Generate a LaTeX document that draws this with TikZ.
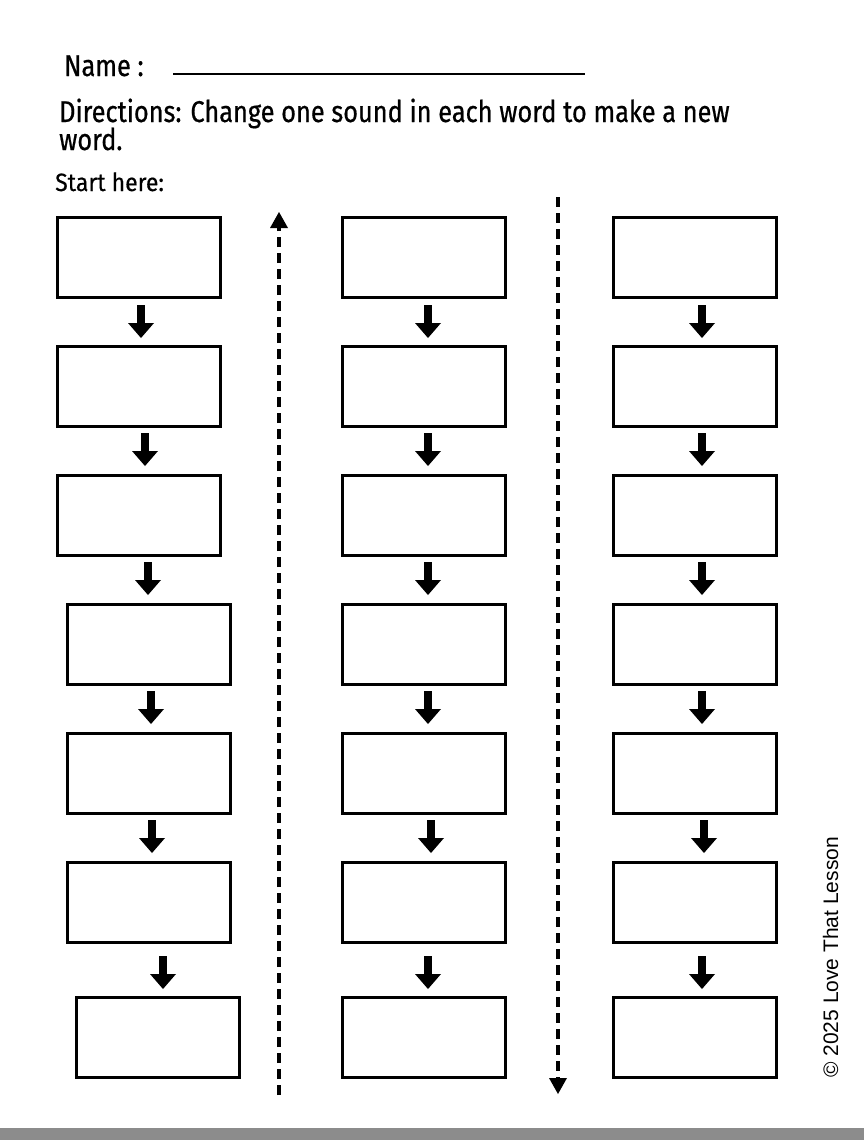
\documentclass[tikz,border=0pt]{standalone}
\usepackage{fontspec}
\setmainfont{Fira Sans}
\newfontfamily\hfont[FakeStretch=0.845,FakeBold=0.6]{Fira Sans}
\newfontfamily\sfont[FakeStretch=0.92,FakeBold=0.5]{Fira Sans}
\newfontfamily\cfont{Liberation Sans}
\usetikzlibrary{arrows.meta,calc}
\definecolor{bargray}{RGB}{140,140,140}
\begin{document}
\begin{tikzpicture}[x=1pt,y=-1pt,
  wbox/.style={draw,line width=3pt,minimum width=163pt,minimum height=80pt,inner sep=0pt,anchor=north west},
  fatarrow/.style={line width=8pt,-{Triangle[width=26pt,length=15pt,line width=0pt]}},
  guide/.style={line width=3.5pt,dash pattern=on 10pt off 6pt},
  htext/.style={anchor=base west,inner sep=0pt,font=\hfont\fontsize{30}{32}\selectfont}]
\useasboundingbox (0,0) rectangle (864,1140);
\fill[white] (0,0) rectangle (864,1140);
\fill[bargray] (0,1128) rectangle (864,1140);
% header
\node[htext] (name) at (64,76) {Name :};
\coordinate (ul1) at (173,74);
\coordinate (ul2) at (585,74);
\draw[line width=2pt] (ul1) -- (ul2);
\node[htext] (dir1) at (59,122) {Directions: Change one sound in each word to make a new};
\node[htext] (dir2) at (59,150) {word.};
\node[htext,font=\sfont\fontsize{25}{27}\selectfont] (start) at (55,191) {Start here:};
% boxes
\foreach \c/\xa/\xb/\xc/\xd/\xe/\xf/\xg in {a/56/56/56/66/66/66/75, b/341/341/341/341/341/341/341, c/612/612/612/612/612/612/612}{
  \node[wbox] (\c1) at (\xa,216) {};
  \node[wbox] (\c2) at (\xb,345) {};
  \node[wbox] (\c3) at (\xc,474) {};
  \node[wbox] (\c4) at (\xd,603) {};
  \node[wbox] (\c5) at (\xe,732) {};
  \node[wbox] (\c6) at (\xf,861) {};
  \node[wbox] (\c7) at (\xg,996) {};
}
% arrows
\foreach \n/\x/\y in {1/141/305,2/145/433,3/148/562,4/151/691,5/152/820,6/163/956,
                      7/428/305,8/428/433,9/428/562,10/428/691,11/431/820,12/428/956,
                      13/702/305,14/702/433,15/702/562,16/702/691,17/704/820,18/702/956}{
  \coordinate (s\n) at (\x,\y);
  \coordinate (e\n) at (\x,\y+33);
  \draw[fatarrow] (s\n) -- (e\n);
}
% dashed guides
\coordinate (g1s) at (279,1095);
\coordinate (g1e) at (279,226);
\coordinate (g1t) at (279,212);
\draw[guide] (g1s) -- (g1e);
\fill (g1t) -- ++(-9,16) -- ++(18,0) -- cycle;
\coordinate (g2s) at (558,197);
\coordinate (g2e) at (558,1080);
\coordinate (g2t) at (558,1094);
\draw[guide] (g2s) -- (g2e);
\fill (g2t) -- ++(-9,-16) -- ++(18,0) -- cycle;
% copyright
\node[rotate=90,anchor=base west,inner sep=0pt,font=\cfont\fontsize{21}{23}\selectfont] (copy) at (838,1078) {\textcopyright{} 2025 Love That Lesson};
\end{tikzpicture}
\end{document}
